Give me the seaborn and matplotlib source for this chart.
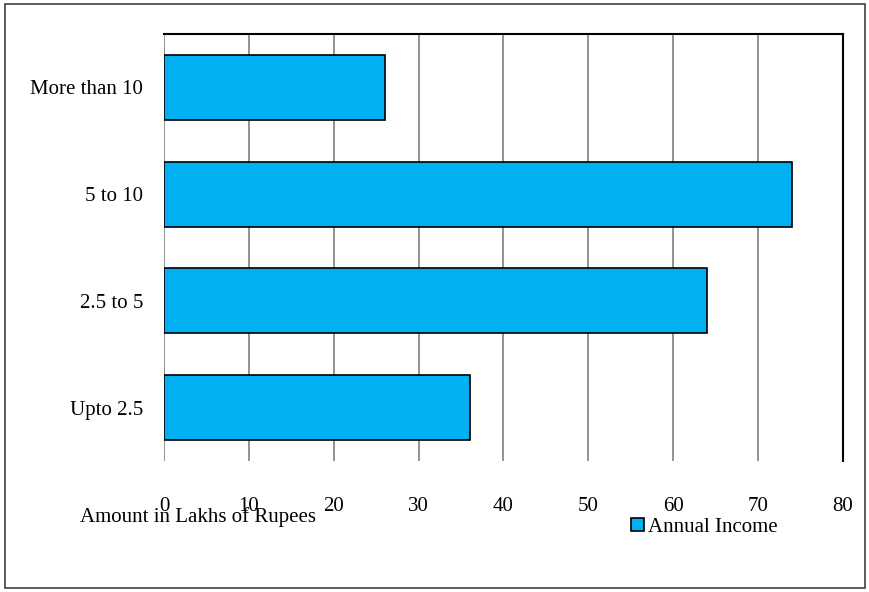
import matplotlib
matplotlib.use('Agg')
import matplotlib.pyplot as plt
import seaborn as sns
import pandas as pd
from matplotlib.patches import Rectangle

categories = ['More than 10', '5 to 10', '2.5 to 5', 'Upto 2.5']
values = [26, 74, 64, 36]
x_ticks = [0, 10, 20, 30, 40, 50, 60, 70, 80]

df = pd.DataFrame({'Income': categories, 'Amount': values})

sns.set_style('white')
plt.rcParams['font.family'] = ['Liberation Serif', 'DejaVu Serif']
plt.rcParams['text.color'] = 'black'
plt.rcParams['xtick.color'] = 'black'
plt.rcParams['ytick.color'] = 'black'

fig = plt.figure(figsize=(8.7, 5.92), dpi=100)
ax = fig.add_axes([164 / 870, 1 - 461 / 592, (843 - 164) / 870, (461 - 34) / 592])

sns.barplot(data=df, x='Amount', y='Income', orient='h', color='#00B0F0',
            saturation=1, width=0.61, edgecolor='black', linewidth=1.2,
            label='Annual Income', ax=ax, zorder=3)

ax.set_xlim(0, 80)
ax.set_xticks(x_ticks)
ax.set_xticklabels([str(t) for t in x_ticks], fontsize=15)
ax.tick_params(axis='x', length=0, pad=26, labelcolor='black')
ax.tick_params(axis='y', length=0, pad=15, labelsize=15, labelcolor='black')
ax.set_xlabel('')
ax.set_ylabel('')
ax.xaxis.grid(True, color='#808080', linewidth=1.2, zorder=0)
ax.set_axisbelow(True)

for side in ['top', 'right']:
    ax.spines[side].set_visible(True)
    ax.spines[side].set_color('black')
    ax.spines[side].set_linewidth(1.5)
ax.spines['bottom'].set_visible(False)
ax.spines['left'].set_visible(False)

# axis title sits under the tick labels, as in the original export
fig.text(80 / 870, 1 - 517 / 592, 'Amount in Lakhs of Rupees', fontsize=15,
         va='center', ha='left', color='black')

leg = ax.legend(loc='center left', bbox_to_anchor=(621 / 870, 1 - 527 / 592),
                bbox_transform=fig.transFigure, frameon=False, fontsize=15,
                handlelength=0.6, handleheight=0.6, handletextpad=0.2,
                borderpad=0)
for t in leg.get_texts():
    t.set_color('black')

fig.patches.append(Rectangle((5 / 870, 4 / 592), 860 / 870, 584 / 592,
                             transform=fig.transFigure, fill=False,
                             edgecolor='#404040', linewidth=1.2))

fig.savefig('out.png', dpi=100)
